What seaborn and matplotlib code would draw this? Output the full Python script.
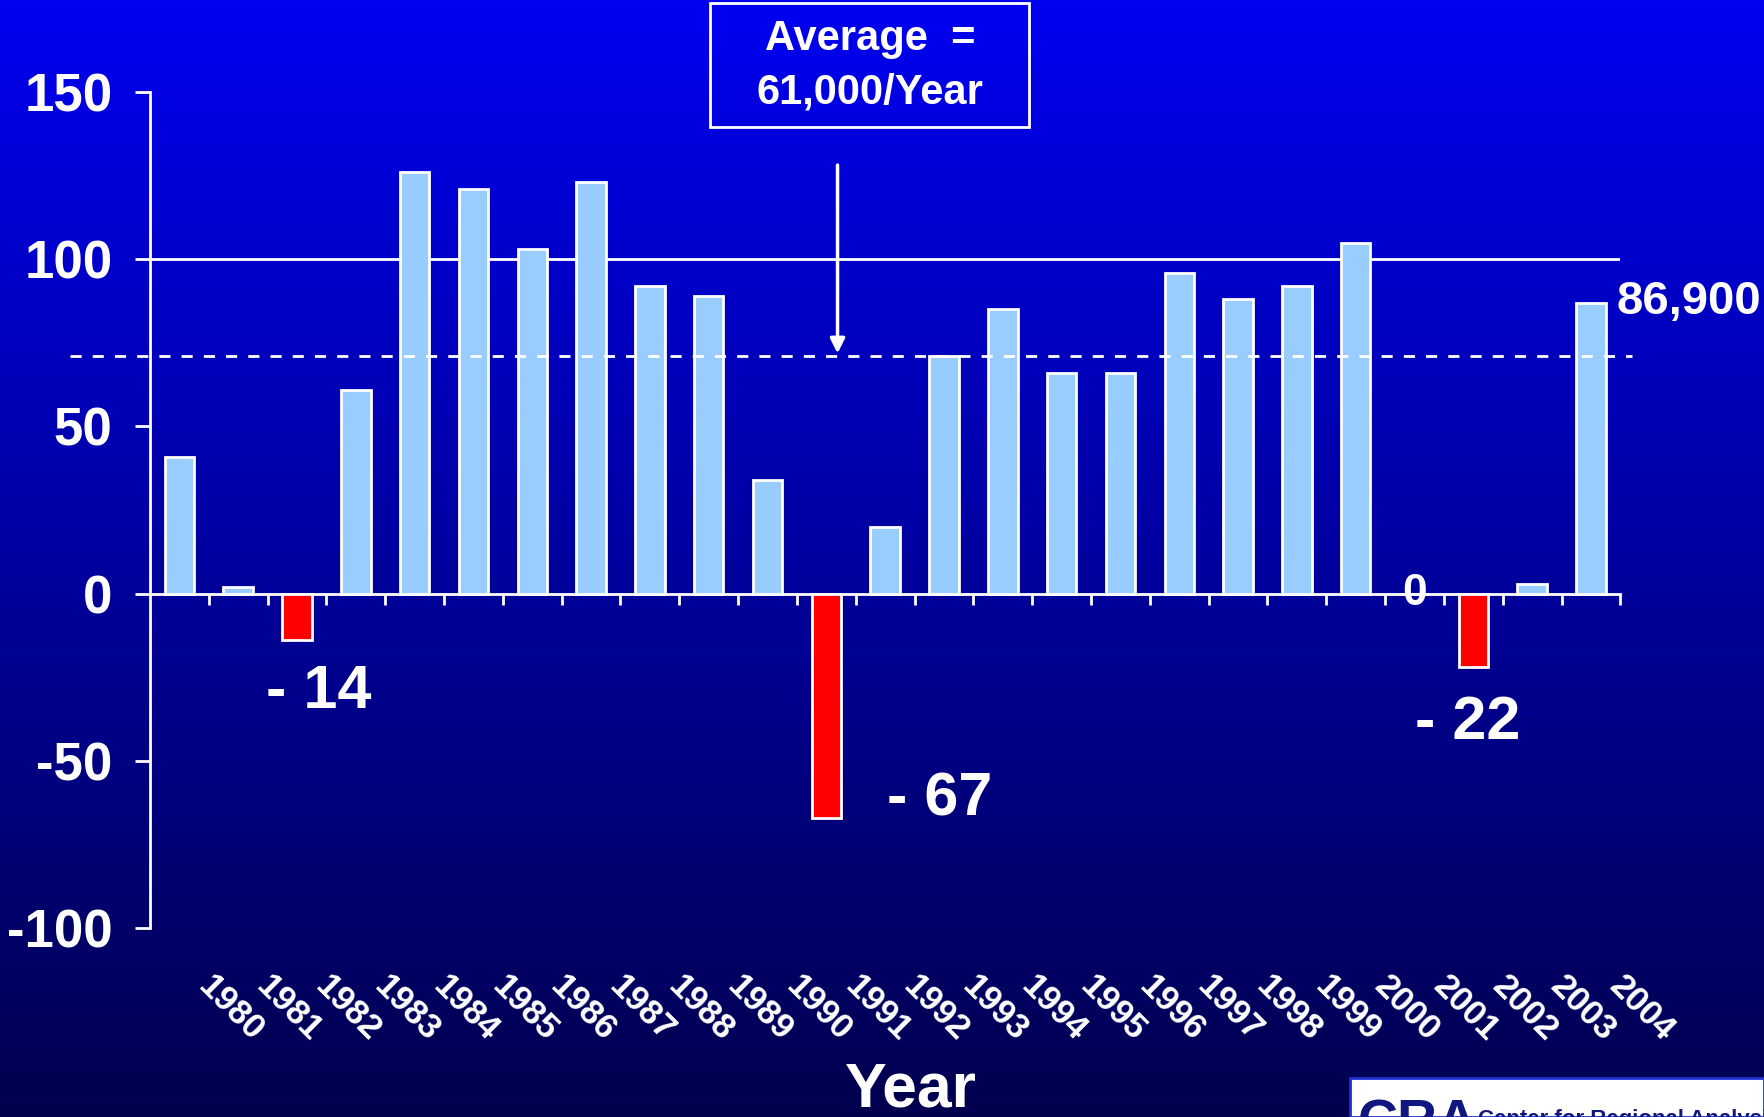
import matplotlib
matplotlib.use("Agg")
import matplotlib.pyplot as plt
import matplotlib.transforms as mtransforms
from matplotlib.patches import Rectangle
import numpy as np
import pandas as pd
import seaborn as sns

# Net change per year (thousands)
years = [str(y) for y in range(1980, 2005)]
values = [41, 2, -14, 61, 126, 121, 103, 123, 92, 89, 34, -67, 20,
          71, 85, 66, 66, 96, 88, 92, 105, 0, -22, 3, 87]
labelled = {"1982": "- 14", "1991": "- 67", "2002": "- 22", "2001": "0"}
avg_line = 71
ref_line = 100
last_label = "86,900"

# label placement (offset points, alignment)
label_style = {
    "1982": ((16, -17), "center", "top", 44),
    "1991": ((44, 13), "left", "center", 44),
    "2002": ((-4, -20), "center", "top", 44),
    "2001": ((0, -15), "center", "bottom", 32),
}

bar_blue = "#99CCFF"
bar_red = "#FF0000"
font = ["Liberation Sans", "DejaVu Sans"]

sns.set_theme(style="white")
plt.rcParams["font.family"] = font
plt.rcParams["font.weight"] = "bold"
plt.rcParams["axes.unicode_minus"] = False

df = pd.DataFrame({"year": years, "value": values})
colors = [bar_red if v < 0 else bar_blue for v in values]

fig = plt.figure(figsize=(17.64, 11.17), dpi=100)

# gradient background
bg = fig.add_axes([0, 0, 1, 1], zorder=-10)
grad = np.linspace(0, 1, 256).reshape(-1, 1)
top = np.array([0, 0, 240]) / 255
bottom = np.array([0, 0, 78]) / 255
img = top + (bottom - top) * grad[:, :, None]
bg.imshow(img, aspect="auto", extent=[0, 1, 0, 1])
bg.axis("off")

ax = fig.add_axes([0.085, 0.1692, 0.8336, 0.7484])
ax.set_facecolor("none")
sns.barplot(data=df, x="year", y="value", hue="year", palette=colors,
            legend=False, width=0.5, edgecolor="white", linewidth=2,
            saturation=1, ax=ax, zorder=3)

ax.set_xlim(-0.5, len(years) - 0.5)
ax.set_ylim(-100, 150)
ax.set_yticks([-100, -50, 0, 50, 100, 150])
ax.set_xlabel("")
ax.set_ylabel("")

for s in ["top", "right"]:
    ax.spines[s].set_visible(False)
ax.spines["left"].set_color("white")
ax.spines["left"].set_linewidth(2)
ax.spines["bottom"].set_position(("data", 0))
ax.spines["bottom"].set_color("white")
ax.spines["bottom"].set_linewidth(2)

ax.tick_params(axis="y", colors="white", length=11, width=2, pad=16,
               labelsize=38, left=True)
for t in ax.get_yticklabels():
    t.set_fontweight("bold")

# tick marks at category boundaries on the zero line
ax.set_xticks(np.arange(len(years)) + 0.5)
ax.tick_params(axis="x", colors="white", length=8, width=2,
               labelbottom=False, bottom=True, direction="out")

# year labels along the bottom of the plot area
trans = mtransforms.blended_transform_factory(ax.transData, ax.transAxes)
trans = mtransforms.offset_copy(trans, fig=fig, y=-30, units="points")
for i, yr in enumerate(years):
    ax.text(i + 0.6, 0, yr, transform=trans, rotation=-45,
            rotation_mode="anchor", ha="left", va="top", color="white",
            fontsize=25, fontweight="bold", clip_on=False)

# reference lines
ax.axhline(ref_line, color="white", lw=2, zorder=2)
ax.plot([-1.86, len(years) - 0.31], [avg_line, avg_line],
        color="white", lw=2, ls=(0, (4, 4)), zorder=4, clip_on=False)

# value labels
idx = {y: i for i, y in enumerate(years)}
for yr, txt in labelled.items():
    i = idx[yr]
    off, ha, va, fs = label_style[yr]
    ax.annotate(txt, (i, values[i]), xytext=off, textcoords="offset points",
                ha=ha, va=va, color="white", fontsize=fs, fontweight="bold")
ax.annotate(last_label, (len(years) - 1, values[-1]), xytext=(18, -15),
            textcoords="offset points", ha="left", va="bottom",
            color="white", fontsize=34, fontweight="bold",
            annotation_clip=False)

# arrow to average line
ax.annotate("", xy=(11.19, avg_line), xytext=(11.19, 129),
            arrowprops=dict(arrowstyle="-|>", color="white", lw=2.5,
                            mutation_scale=22), zorder=5)

# average box
fig.patches.append(Rectangle((710 / 1764, 1 - 127 / 1117), 319 / 1764,
                             124 / 1117, transform=fig.transFigure,
                             facecolor="none", edgecolor="white", lw=2))
fig.text(870 / 1764, 1 - 66 / 1117, "Average  =\n61,000/Year", ha="center",
         va="center", color="white", fontsize=30, fontweight="bold",
         linespacing=1.45)

fig.text(911 / 1764, 0.024, "Year", ha="center", va="center",
         color="white", fontsize=45, fontweight="bold")

# logo strip bottom right
fig.patches.append(Rectangle((1350 / 1764, 0), 414 / 1764, 39 / 1117,
                             transform=fig.transFigure, facecolor="white",
                             edgecolor="#2030D0", lw=2))
fig.text(1358 / 1764, -0.03, "CRA", ha="left", va="bottom",
         color="#101880", fontsize=40, fontweight="bold")
fig.text(1478 / 1764, -0.012, "Center for Regional Analysis", ha="left",
         va="bottom", color="#101880", fontsize=16, fontweight="bold")

fig.savefig("out.png", dpi=100)
